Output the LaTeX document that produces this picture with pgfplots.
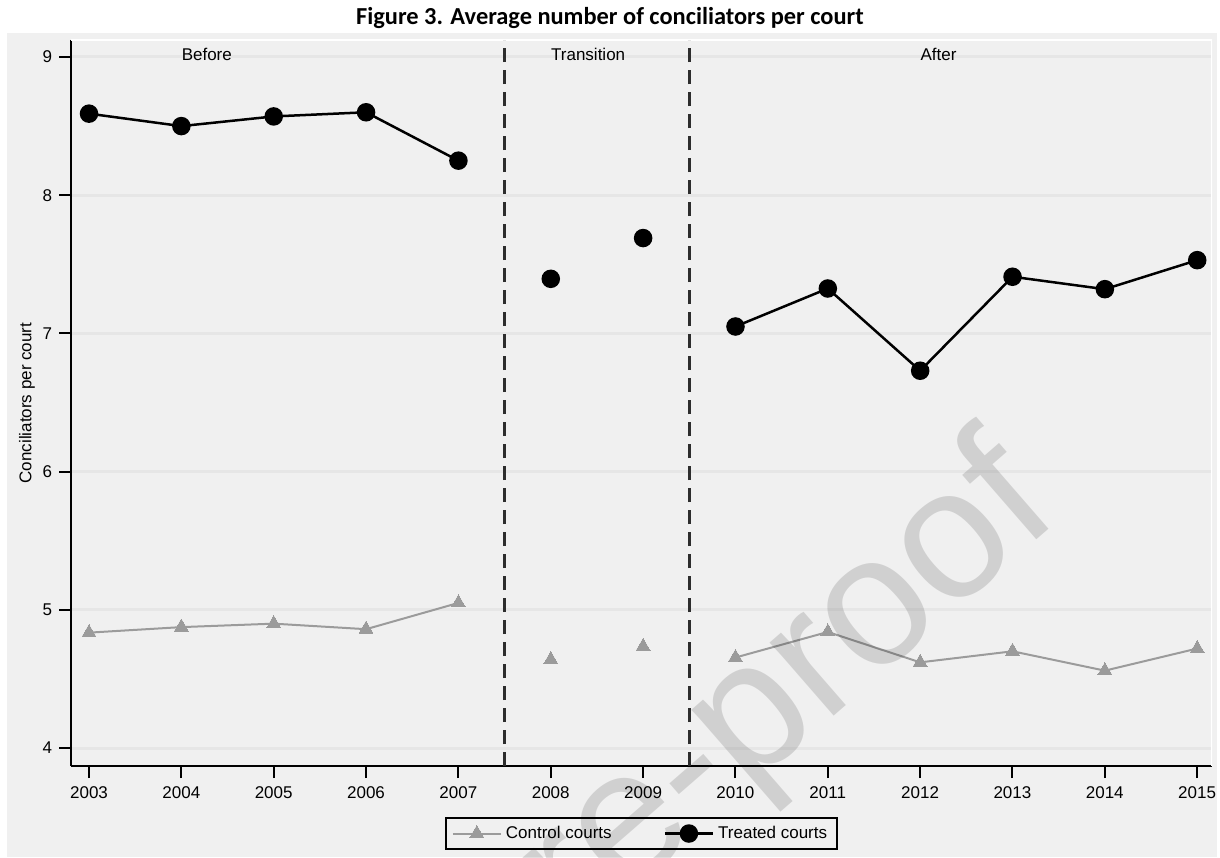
\documentclass[border=0pt]{standalone}
\usepackage{pgfplots}
\pgfplotsset{compat=1.18}
\usepackage{fontspec}
\setmainfont{Liberation Sans}
\newfontfamily\titlefont{Carlito}
\definecolor{bg}{RGB}{240,240,240}
\definecolor{gridc}{RGB}{230,230,230}
\definecolor{ctrl}{RGB}{155,155,155}
\definecolor{dashc}{RGB}{45,45,45}

\begin{document}
\begin{tikzpicture}
\useasboundingbox (0,0) rectangle (610pt,-428.5pt);
\fill[white] (0,0) rectangle (610pt,-428.5pt);
\fill[bg] (3.5pt,-16.5pt) rectangle (608.5pt,-428.5pt);
\node[font=\titlefont\bfseries\fontsize{12.2}{14}\selectfont] at (305pt,-9pt)
  {Figure 3. Average number of conciliators per court};
\begin{axis}[
  at={(35.5pt,-383pt)}, anchor=south west,
  scale only axis, width=570.5pt, height=363pt,
  xmin=2002.805, xmax=2015.16, ymin=3.87, ymax=9.123,
  axis x line*=bottom, axis y line*=left,
  axis line style={line width=1pt, -},
  xtick={2003,...,2015}, ytick={4,...,9},
  tick align=outside, major tick length=6pt,
  tick style={black, line width=1pt},
  /pgf/number format/assume math mode=true,
  /pgf/number format/1000 sep={},
  ticklabel style={font=\fontsize{8.5}{10}\selectfont},
  xticklabel style={yshift=-1pt},
  ymajorgrids, grid style={gridc, line width=1.5pt},
  ylabel={Conciliators per court},
  ylabel style={at={(axis description cs:-0.0386,0.5)}, anchor=center,
    font=\fontsize{8.5}{10}\selectfont},
  unbounded coords=jump,
  legend columns=2,
  legend style={at={(0.5,-0.093)}, anchor=center, draw=black,
    line width=0.75pt, fill=none, font=\fontsize{8.5}{10}\selectfont,
    /tikz/every even column/.append style={column sep=24pt}},
  legend image code/.code={\draw[mark repeat=2,mark phase=2,#1]
    plot coordinates {(0pt,0pt) (12pt,0pt) (24pt,0pt)};},
]
\draw[white, line width=1pt] (rel axis cs:0,1) -- (rel axis cs:1,1) -- (rel axis cs:1,0);

\addplot[ctrl, line width=1pt, mark=triangle*, mark size=4pt,
  mark options={fill=ctrl, draw=ctrl, line width=0pt}] coordinates {
  (2003,4.835) (2004,4.875) (2005,4.90) (2006,4.86) (2007,5.05)
  (2007.5,nan) (2008,4.64) (2008.5,nan) (2009,4.735) (2009.5,nan)
  (2010,4.655) (2011,4.84) (2012,4.62) (2013,4.70) (2014,4.56) (2015,4.72)
};
\addlegendentry{Control courts}
\addplot[black, line width=1.25pt, mark=*, mark size=4pt,
  mark options={fill=black}] coordinates {
  (2003,8.59) (2004,8.50) (2005,8.57) (2006,8.60) (2007,8.25)
  (2007.5,nan) (2008,7.395) (2008.5,nan) (2009,7.69) (2009.5,nan)
  (2010,7.05) (2011,7.325) (2012,6.73) (2013,7.41) (2014,7.32) (2015,7.53)
};
\addlegendentry{Treated courts}

\addplot[forget plot, dashc, line width=1.25pt, dash pattern=on 7pt off 4pt]
  coordinates {(2007.5,3.87) (2007.5,9.123)};
\addplot[forget plot, dashc, line width=1.25pt, dash pattern=on 7pt off 4pt]
  coordinates {(2009.5,3.87) (2009.5,9.123)};

\node[anchor=west, inner sep=0pt, font=\fontsize{8.5}{10}\selectfont] at (axis cs:2004,9.02) {Before};
\node[anchor=west, inner sep=0pt, font=\fontsize{8.5}{10}\selectfont] at (axis cs:2008,9.02) {Transition};
\node[anchor=west, inner sep=0pt, font=\fontsize{8.5}{10}\selectfont] at (axis cs:2012,9.02) {After};
\end{axis}
\node[rotate=41, anchor=base east, inner sep=0pt, text=black, opacity=0.13,
  font=\fontsize{92}{92}\selectfont] at (532pt,-258pt) {Journal Pre-proof};
\end{tikzpicture}
\end{document}
